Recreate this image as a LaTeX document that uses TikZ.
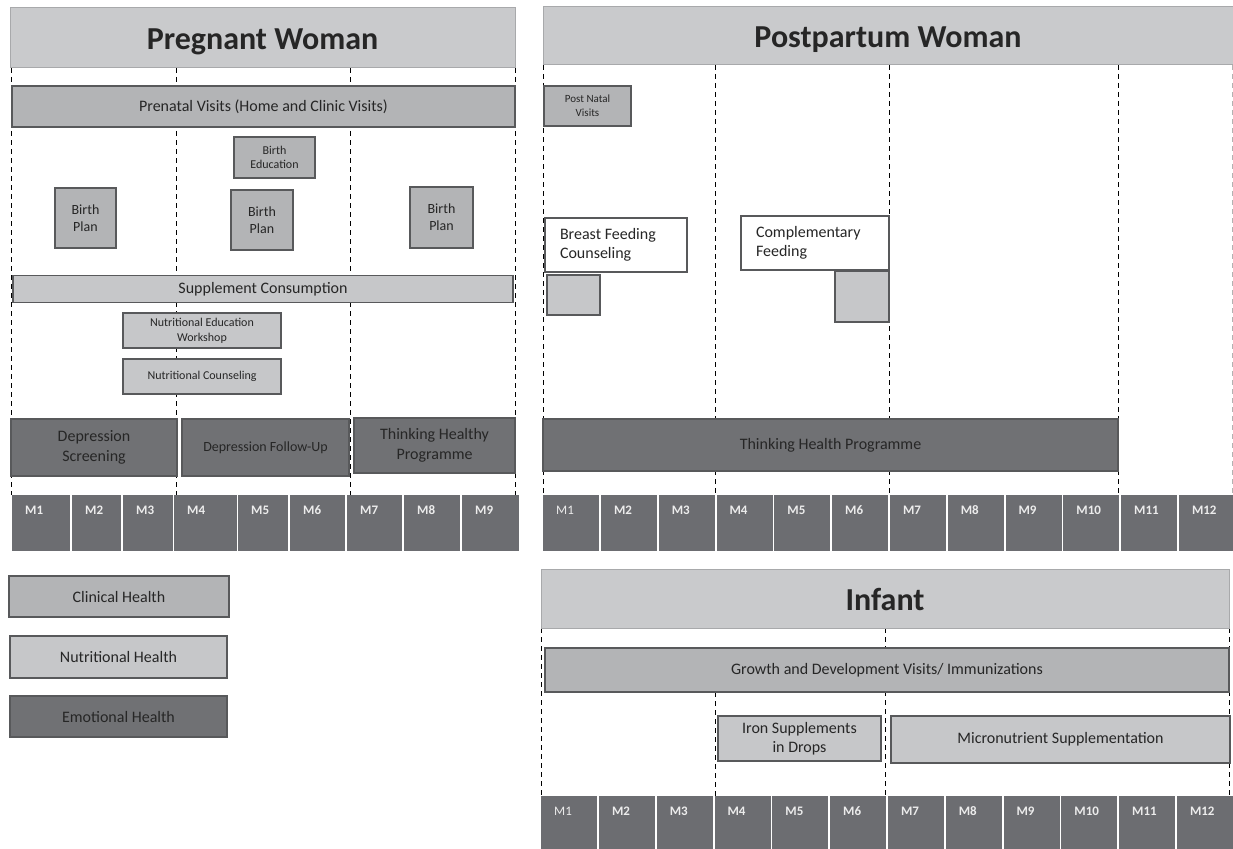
\documentclass[tikz,border=0pt]{standalone}
\usepackage{fontspec}
\setmainfont{Carlito}
\usepackage{tikz}

\definecolor{hdrfill}{RGB}{201,202,204}
\definecolor{hdrline}{RGB}{168,169,171}
\definecolor{clinfill}{RGB}{179,180,182}
\definecolor{nutrfill}{RGB}{198,199,201}
\definecolor{emotfill}{RGB}{112,113,116}
\definecolor{monthfill}{RGB}{108,109,113}
\definecolor{boxline}{RGB}{88,89,91}
\definecolor{txt}{RGB}{38,38,38}
\definecolor{monthtxt}{RGB}{236,236,236}
\newcommand\sz[2]{\fontsize{#1}{#2}\selectfont}

\begin{document}
\begin{tikzpicture}[x=1pt,y=-1pt,
	hdr/.style={draw=hdrline,fill=hdrfill,line width=1pt,text=txt,inner sep=0pt,text height=24pt,text depth=0pt,font=\sz{32}{38}\bfseries},
	box/.style={draw=boxline,line width=1.5pt,text=txt,align=center,inner sep=0pt,font=\sz{16}{19.5}},
	clin/.style={box,fill=clinfill},
	nutr/.style={box,fill=nutrfill},
	emot/.style={box,fill=emotfill},
	note/.style={box,fill=white,line width=1.2pt,align=flush left},
	month/.style={fill=monthfill,minimum height=56pt,inner sep=0pt,anchor=north west},
	mlab/.style={anchor=north west,inner xsep=13pt,inner ysep=9pt,text height=10pt,text depth=0pt,text=monthtxt,font=\sz{13}{15}\bfseries},
	guide/.style={black,line width=0.8pt,dash pattern=on 5pt off 4pt}]
			\useasboundingbox (0,0) rectangle (1233,848);
			
			% pregnant woman
			\foreach \x in {11,176,350,515}
				\draw[guide] (\x,68) -- (\x,495);
			\node[hdr,minimum width=505pt,minimum height=60pt] (pw) at (262.5,38) {Pregnant Woman};
			\node[clin,minimum width=503pt,minimum height=41pt] (pv) at (263.5,106.5) {Prenatal Visits (Home and Clinic Visits)};
			\node[clin,minimum width=81pt,minimum height=41pt,font=\sz{12}{14.5}] (be) at (274.5,157.5) {Birth\\Education};
			\node[clin,minimum width=61pt,minimum height=60pt,font=\sz{14}{17.3}] (bp1) at (85.5,218) {Birth\\Plan};
			\node[clin,minimum width=62pt,minimum height=60pt,font=\sz{14}{17.3}] (bp2) at (262,220) {Birth\\Plan};
			\node[clin,minimum width=63pt,minimum height=61pt,font=\sz{14}{17.3}] (bp3) at (441.5,217.5) {Birth\\Plan};
			\node[nutr,minimum width=500pt,minimum height=27pt] (sc) at (263,289) {Supplement Consumption};
			\node[nutr,minimum width=158pt,minimum height=35pt,font=\sz{12}{15}] (new) at (202,330.5) {Nutritional Education\\Workshop};
			\node[nutr,minimum width=158pt,minimum height=35pt,font=\sz{12}{15}] (nc) at (202,376.5) {Nutritional Counseling};
			\node[emot,minimum width=166pt,minimum height=57pt] (ds) at (94,447.5) {Depression\\Screening};
			\node[emot,minimum width=167pt,minimum height=57pt,font=\sz{14}{17}] (dfu) at (265.5,447.5) {Depression Follow-Up};
			\node[emot,minimum width=161pt,minimum height=55pt] (thp) at (434.5,445.5) {Thinking Healthy\\Programme};
			\foreach \xl/\w [count=\i] in {12/58,72/49,123/50,174/63,238/50,290/55,347/55,404/56,462/57}
				\node[month,minimum width=\w pt,label={[mlab]north west:M\i}] (pm\i) at (\xl,495) {};
			
			% legend
			\node[clin,minimum width=220pt,minimum height=41pt] (lc) at (119,596.5) {Clinical Health};
			\node[nutr,minimum width=217pt,minimum height=42pt] (ln) at (118.5,657) {Nutritional Health};
			\node[emot,minimum width=217pt,minimum height=41pt] (le) at (118.5,716.5) {Emotional Health};
			
			% postpartum woman
			\foreach \x in {543,715,889,1118}
				\draw[guide] (\x,65) -- (\x,495);
			\draw[guide,black!30] (1232,65) -- (1232,495);
			\node[hdr,minimum width=690pt,minimum height=58pt] (ppw) at (888,36) {Postpartum Woman};
			\node[clin,minimum width=87pt,minimum height=40pt,font=\sz{11}{14}] (pnv) at (587.5,106) {Post Natal\\Visits};
			\node[note,minimum width=142pt,minimum height=54pt,text width=112pt] (bfc) at (616,245) {Breast Feeding\\Counseling};
			\node[nutr,minimum width=53pt,minimum height=40pt] (bfs) at (573.5,295) {};
			\node[note,minimum width=148pt,minimum height=54pt,text width=118pt] (cf) at (815,243) {Complementary\\Feeding};
			\node[nutr,minimum width=54pt,minimum height=51pt] (cfs) at (862,296.5) {};
			\node[emot,minimum width=575pt,minimum height=52pt] (thp2) at (830.5,445) {Thinking Health Programme};
			\foreach \i in {1,...,12}
				\node[month,minimum width=56pt,label={[mlab]north west:{\ifnum\i=1 \mdseries\fi M\i}}] (qm\i) at ({543+57.8*(\i-1)},495) {};
			
			% infant
			\foreach \x in {541,1229}
				\draw[guide] (\x,628) -- (\x,800);
			\draw[guide] (885,628) -- (885,796);
			\draw[guide] (715,692) -- (715,796);
			\node[hdr,minimum width=688pt,minimum height=59pt] (inf) at (885,598.5) {Infant};
			\node[clin,minimum width=684pt,minimum height=44pt] (gdv) at (887,670) {Growth and Development Visits/ Immunizations};
			\node[nutr,minimum width=163pt,minimum height=45pt] (isd) at (799.5,738.5) {Iron Supplements\\in Drops};
			\node[nutr,minimum width=339pt,minimum height=47pt] (ms) at (1060.5,739.5) {Micronutrient Supplementation};
			\foreach \i in {1,...,12}
				\node[month,minimum width=56pt,label={[mlab]north west:{\ifnum\i=1 \mdseries\fi M\i}}] (im\i) at ({541+57.8*(\i-1)},796) {};
		\end{tikzpicture}
\end{document}
